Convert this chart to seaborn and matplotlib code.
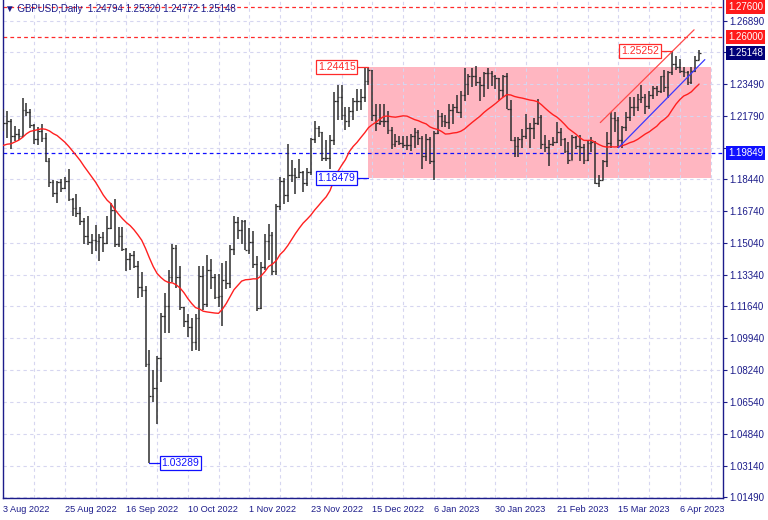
import numpy as np
import pandas as pd
import matplotlib
matplotlib.use('Agg')
import matplotlib.pyplot as plt
import seaborn as sns
from matplotlib.patches import Rectangle

sns.set_style('white')
plt.rcParams['font.family'] = ['Liberation Sans', 'DejaVu Sans']

# Дані GBPUSD Daily (3 Aug 2022 - 13 Apr 2023), по одному бару на робочий день
opens = [1.2165, 1.2144, 1.2152, 1.2075, 1.2082, 1.2076, 1.2212, 1.2203, 1.2134, 1.2055,
         1.2101, 1.2064, 1.1941, 1.1828, 1.1767, 1.1826, 1.1796, 1.1833, 1.1735, 1.1689,
         1.1660, 1.1622, 1.1541, 1.1509, 1.1516, 1.1515, 1.1535, 1.1503, 1.1585, 1.1677,
         1.1499, 1.1540, 1.1469, 1.1418, 1.1436, 1.1380, 1.1267, 1.1254, 1.0856, 1.0685,
         1.0730, 1.0888, 1.1111, 1.1166, 1.1321, 1.1476, 1.1322, 1.1159, 1.1089, 1.1057,
         1.0972, 1.1102, 1.1326, 1.1175, 1.1359, 1.1319, 1.1213, 1.1221, 1.1303, 1.1287,
         1.1473, 1.1616, 1.1573, 1.1622, 1.1466, 1.1506, 1.1389, 1.1157, 1.1376, 1.1514,
         1.1546, 1.1352, 1.1702, 1.1833, 1.1758, 1.1867, 1.1865, 1.1856, 1.1883, 1.1822,
         1.1882, 1.2058, 1.2115, 1.2093, 1.1958, 1.1958, 1.2054, 1.2259, 1.2284, 1.2188,
         1.2153, 1.2206, 1.2259, 1.2262, 1.2279, 1.2368, 1.2425, 1.2186, 1.2143, 1.2154,
         1.2155, 1.2103, 1.2033, 1.2049, 1.2036, 1.2024, 1.2023, 1.2075, 1.2096, 1.2064,
         1.1967, 1.2057, 1.1938, 1.2091, 1.2182, 1.2154, 1.2147, 1.2214, 1.2227, 1.2202,
         1.2293, 1.2351, 1.2395, 1.2394, 1.2364, 1.2345, 1.2412, 1.2408, 1.2395, 1.2381,
         1.2320, 1.2391, 1.2220, 1.2051, 1.2021, 1.2055, 1.2073, 1.2116, 1.2117, 1.2141,
         1.2174, 1.2030, 1.2014, 1.2033, 1.2044, 1.2095, 1.2055, 1.1994, 1.1944, 1.2067,
         1.2020, 1.2016, 1.1945, 1.2037, 1.2040, 1.1822, 1.1841, 1.1938, 1.2035, 1.2171,
         1.2158, 1.2051, 1.2122, 1.2177, 1.2230, 1.2227, 1.2271, 1.2282, 1.2231, 1.2293,
         1.2332, 1.2311, 1.2392, 1.2335, 1.2416, 1.2458, 1.2444, 1.2420, 1.2414, 1.2359,
         1.2422, 1.24794]
highs = [1.2215, 1.2207, 1.2165, 1.2128, 1.2110, 1.2276, 1.2249, 1.2217, 1.2138, 1.2119,
         1.2140, 1.2087, 1.1958, 1.1838, 1.1834, 1.1843, 1.1853, 1.1900, 1.1743, 1.1762,
         1.1695, 1.1637, 1.1648, 1.1549, 1.1600, 1.1550, 1.1560, 1.1648, 1.1714, 1.1738,
         1.1590, 1.1589, 1.1474, 1.1448, 1.1458, 1.1404, 1.1347, 1.1274, 1.0930, 1.0826,
         1.0900, 1.1129, 1.1236, 1.1357, 1.1495, 1.1490, 1.1380, 1.1162, 1.1125, 1.1100,
         1.1126, 1.1381, 1.1380, 1.1438, 1.1418, 1.1337, 1.1337, 1.1395, 1.1408, 1.1493,
         1.1645, 1.1643, 1.1625, 1.1626, 1.1580, 1.1564, 1.1435, 1.1399, 1.1553, 1.1605,
         1.1561, 1.1713, 1.1854, 1.1847, 1.2029, 1.1945, 1.1905, 1.1952, 1.1886, 1.1903,
         1.2065, 1.2153, 1.2125, 1.2094, 1.2050, 1.2078, 1.2310, 1.2344, 1.2345, 1.2228,
         1.2229, 1.2275, 1.2323, 1.2322, 1.2443, 1.24415, 1.2428, 1.2242, 1.2242, 1.2243,
         1.2209, 1.2123, 1.2084, 1.2073, 1.2075, 1.2075, 1.2086, 1.2118, 1.2108, 1.2074,
         1.2086, 1.2066, 1.2098, 1.2210, 1.2196, 1.2188, 1.2246, 1.2246, 1.2293, 1.2311,
         1.2435, 1.2403, 1.2436, 1.2448, 1.2389, 1.2416, 1.2436, 1.2420, 1.2400, 1.2384,
         1.2400, 1.2410, 1.2263, 1.2070, 1.2069, 1.2110, 1.2192, 1.2144, 1.2168, 1.2270,
         1.2184, 1.2081, 1.2050, 1.2068, 1.2148, 1.2115, 1.2063, 1.2040, 1.2080, 1.2075,
         1.2080, 1.2030, 1.2048, 1.2070, 1.2045, 1.1864, 1.1945, 1.2095, 1.2203, 1.2200,
         1.2175, 1.2129, 1.2204, 1.2282, 1.2281, 1.2299, 1.2343, 1.2298, 1.2315, 1.2342,
         1.2340, 1.2395, 1.2424, 1.2422, 1.25252, 1.2500, 1.2482, 1.2440, 1.2418, 1.2443,
         1.2499, 1.25320]
lows = [1.2100, 1.2065, 1.2004, 1.2045, 1.2053, 1.2070, 1.2178, 1.2116, 1.2029, 1.2023,
        1.2043, 1.1935, 1.1800, 1.1749, 1.1717, 1.1777, 1.1788, 1.1728, 1.1648, 1.1641,
        1.1597, 1.1498, 1.1494, 1.1443, 1.1460, 1.1406, 1.1457, 1.1499, 1.1577, 1.1479,
        1.1483, 1.1459, 1.1351, 1.1356, 1.1370, 1.1211, 1.1216, 1.0839, 1.03289, 1.0656,
        1.0539, 1.0762, 1.1025, 1.1025, 1.1295, 1.1262, 1.1146, 1.1053, 1.0999, 1.0924,
        1.0931, 1.0924, 1.1146, 1.1163, 1.1256, 1.1206, 1.1162, 1.1060, 1.1257, 1.1262,
        1.1436, 1.1522, 1.1495, 1.1465, 1.1445, 1.1371, 1.1142, 1.1151, 1.1359, 1.1411,
        1.1333, 1.1333, 1.1676, 1.1710, 1.1720, 1.1830, 1.1763, 1.1848, 1.1776, 1.1805,
        1.1863, 1.2038, 1.2070, 1.1942, 1.1938, 1.1899, 1.2026, 1.2159, 1.2160, 1.2107,
        1.2122, 1.2159, 1.2207, 1.2210, 1.2254, 1.2345, 1.2156, 1.2100, 1.2130, 1.2120,
        1.2085, 1.2003, 1.2013, 1.2025, 1.2010, 1.2000, 1.1992, 1.2010, 1.2026, 1.1900,
        1.1940, 1.1926, 1.1841, 1.2085, 1.2120, 1.2122, 1.2112, 1.2137, 1.2198, 1.2168,
        1.2262, 1.2292, 1.2336, 1.2338, 1.2262, 1.2283, 1.2325, 1.2339, 1.2325, 1.2264,
        1.2280, 1.2218, 1.2047, 1.1961, 1.1960, 1.2010, 1.2060, 1.2011, 1.2056, 1.2130,
        1.2004, 1.1988, 1.1915, 1.2018, 1.2037, 1.2020, 1.1985, 1.1923, 1.1944, 1.2005,
        1.1940, 1.1922, 1.1940, 1.1990, 1.1820, 1.1803, 1.1837, 1.1910, 1.2010, 1.2095,
        1.2011, 1.2010, 1.2098, 1.2155, 1.2181, 1.2205, 1.2248, 1.2190, 1.2218, 1.2273,
        1.2286, 1.2301, 1.2308, 1.2274, 1.2397, 1.2425, 1.2407, 1.2389, 1.2344, 1.2350,
        1.2414, 1.24772]
closes = [1.2144, 1.2152, 1.2075, 1.2082, 1.2076, 1.2212, 1.2203, 1.2134, 1.2055, 1.2101,
          1.2064, 1.1941, 1.1828, 1.1767, 1.1826, 1.1796, 1.1833, 1.1735, 1.1689, 1.1660,
          1.1622, 1.1541, 1.1509, 1.1516, 1.1515, 1.1535, 1.1503, 1.1585, 1.1677, 1.1499,
          1.1540, 1.1469, 1.1418, 1.1436, 1.1380, 1.1267, 1.1254, 1.0856, 1.0685, 1.0730,
          1.0888, 1.1111, 1.1166, 1.1321, 1.1476, 1.1322, 1.1159, 1.1089, 1.1057, 1.0972,
          1.1102, 1.1326, 1.1175, 1.1359, 1.1319, 1.1213, 1.1221, 1.1303, 1.1287, 1.1473,
          1.1616, 1.1573, 1.1622, 1.1466, 1.1506, 1.1389, 1.1157, 1.1376, 1.1514, 1.1546,
          1.1352, 1.1702, 1.1833, 1.1758, 1.1867, 1.1865, 1.1856, 1.1883, 1.1822, 1.1882,
          1.2058, 1.2115, 1.2093, 1.1958, 1.1958, 1.2054, 1.2259, 1.2284, 1.2188, 1.2153,
          1.2206, 1.2259, 1.2262, 1.2279, 1.2368, 1.2425, 1.2186, 1.2143, 1.2154, 1.2155,
          1.2103, 1.2033, 1.2049, 1.2036, 1.2024, 1.2023, 1.2075, 1.2096, 1.2064, 1.1967,
          1.2057, 1.1938, 1.2091, 1.2182, 1.2154, 1.2147, 1.2214, 1.2227, 1.2202, 1.2293,
          1.2351, 1.2395, 1.2394, 1.2364, 1.2345, 1.2412, 1.2408, 1.2395, 1.2381, 1.2320,
          1.2391, 1.2220, 1.2051, 1.2021, 1.2055, 1.2073, 1.2116, 1.2117, 1.2141, 1.2174,
          1.2030, 1.2014, 1.2033, 1.2044, 1.2095, 1.2055, 1.1994, 1.1944, 1.2067, 1.2020,
          1.2016, 1.1945, 1.2037, 1.2040, 1.1822, 1.1841, 1.1938, 1.2035, 1.2171, 1.2158,
          1.2051, 1.2122, 1.2177, 1.2230, 1.2227, 1.2271, 1.2282, 1.2231, 1.2293, 1.2332,
          1.2311, 1.2392, 1.2335, 1.2416, 1.2458, 1.2444, 1.2420, 1.2414, 1.2359, 1.2422,
          1.24794, 1.25148]

# закриття за липень 2022 - лише для розрахунку ковзної середньої на початку
warmup_closes = [1.1963, 1.2023, 1.2030, 1.1890, 1.1888, 1.1913, 1.1823, 1.1872, 1.1965, 1.2002,
                 1.1974, 1.1997, 1.2003, 1.2051, 1.2033, 1.2154, 1.2180, 1.2178, 1.2178, 1.2167]
ma_period = 20

date_ticks = [0, 16, 32, 48, 64, 80, 96, 112, 128, 144, 160, 176]
date_labels = ['3 Aug 2022', '25 Aug 2022', '16 Sep 2022', '10 Oct 2022', '1 Nov 2022',
               '23 Nov 2022', '15 Dec 2022', '6 Jan 2023', '30 Jan 2023', '21 Feb 2023',
               '15 Mar 2023', '6 Apr 2023']
price_ticks = [1.01490, 1.03140, 1.04840, 1.06540, 1.08240, 1.09940, 1.11640, 1.13340,
               1.15040, 1.16740, 1.18440, 1.20090, 1.21790, 1.23490, 1.25190, 1.26890]
# ці дві позначки шкали закриті кольоровими мітками цін
hidden_ticks = [1.20090, 1.25190]

# прямокутник (бари) і ціни його меж
rect_bars = [95, 184.1]
rect_prices = [1.18479, 1.24415]

# трендові лінії: (бар, ціна) на кінцях
upper_line_bars = [155.3, 179.7]
upper_line_prices = [1.2145, 1.2640]
lower_line_bars = [160, 182.5]
lower_line_prices = [1.2011, 1.2481]

# екстремуми з мітками цін
swing_low_bar = 38
swing_high_bar = 174

# горизонтальні рівні
level_prices = [1.27600, 1.26000, 1.19849]
level_colors = ['#ff2a2a', '#ff2a2a', '#1010ff']

scale_prices = [1.27600, 1.26000, 1.25148, 1.19849]
scale_colors = ['#ff1a1a', '#ff1a1a', '#000078', '#1010ff']

header = '\u25bc GBPUSD,Daily  1.24794 1.25320 1.24772 1.25148'

navy = '#1c1c8a'

df = pd.DataFrame({'open': opens, 'high': highs, 'low': lows, 'close': closes})
df['bar'] = np.arange(len(df))
all_close = pd.Series(warmup_closes + closes)
df['ma'] = all_close.rolling(ma_period).mean().iloc[len(warmup_closes):].values

fig = plt.figure(figsize=(7.68, 5.2), dpi=100)
ax = fig.add_axes([2.7 / 768, 21.7 / 520, 720.6 / 768, 498.3 / 520])
ax.set_xlim(-0.16, 187.3)
ax.set_ylim(1.01405, 1.2799)
ax.set_axisbelow(True)

# рожевий прямокутник
ax.add_patch(Rectangle((rect_bars[0], rect_prices[0]), rect_bars[1] - rect_bars[0],
                       rect_prices[1] - rect_prices[0], fc='#ffb6c1', ec='none', zorder=0.3))

# рівні
for p, c in zip(level_prices, level_colors):
    ax.axhline(p, color=c, lw=0.9, ls=(0, (3, 2.5)), zorder=1)

# OHLC бари
bar_color = '#2e2e2e'
ax.vlines(df['bar'], df['low'], df['high'], color=bar_color, lw=1.1, zorder=3)
ax.hlines(df['open'], df['bar'] - 0.45, df['bar'], color=bar_color, lw=0.9, zorder=3)
ax.hlines(df['close'], df['bar'], df['bar'] + 0.45, color=bar_color, lw=0.9, zorder=3)

# ковзна середня
sns.lineplot(data=df, x='bar', y='ma', color='#ff2020', lw=1.0, ax=ax, zorder=4)

# трендові лінії
sns.lineplot(x=upper_line_bars, y=upper_line_prices, color='#ff4a4a', lw=0.9, ax=ax, zorder=4)
sns.lineplot(x=lower_line_bars, y=lower_line_prices, color='#3a3aff', lw=0.9, ax=ax, zorder=4)

ax.set_xlabel('')
ax.set_ylabel('')


# цінові мітки на графіку
def price_label(anchor, price, color, side):
    if side == 'left':
        edge = anchor - 3.0
        cx = edge - 5.3
    else:
        edge = anchor + 2.8
        cx = edge + 5.3
    ax.plot([edge, anchor], [price, price], color=color, lw=0.9, zorder=5)
    ax.text(cx, price, f'{price:.5f}', ha='center', va='center', color=color, fontsize=7.5,
            zorder=6, bbox=dict(boxstyle='square,pad=0.18', fc='white', ec=color, lw=0.9))


price_label(rect_bars[0], rect_prices[1], '#ff2a2a', 'left')
price_label(rect_bars[0], rect_prices[0], '#1010ff', 'left')
price_label(swing_low_bar, df['low'][swing_low_bar], '#1010ff', 'right')
price_label(swing_high_bar, df['high'][swing_high_bar], '#ff2a2a', 'left')

# осі
ax.set_xticks(date_ticks)
ax.set_xticklabels(date_labels)
ax.set_xticks([t + 8 for t in date_ticks], minor=True)
ax.set_yticks(price_ticks)
ax.set_yticklabels(['' if v in hidden_ticks else f'{v:.5f}' for v in price_ticks])
ax.yaxis.tick_right()
ax.tick_params(axis='x', which='major', direction='out', length=3, width=0.8, color=navy,
               labelsize=6.6, labelcolor=navy, pad=1.5)
ax.tick_params(axis='x', which='minor', length=0)
ax.tick_params(axis='y', direction='out', length=3, width=0.8, color=navy,
               labelsize=7, labelcolor=navy, pad=1.5)
for lab in ax.get_xticklabels():
    lab.set_ha('left')
ax.grid(True, which='both', color='#d6d6f0', lw=0.8, ls=(0, (3, 3)))
for side in ['left', 'bottom', 'right']:
    ax.spines[side].set_color(navy)
    ax.spines[side].set_linewidth(1.0)
ax.spines['top'].set_visible(False)

# мітки рівнів на шкалі цін
for p, c in zip(scale_prices, scale_colors):
    ax.text(1.0066, p, f'{p:.5f}', transform=ax.get_yaxis_transform(), ha='left', va='center',
            color='white', fontsize=7, clip_on=False, zorder=10,
            bbox=dict(boxstyle='square,pad=0.2', fc=c, ec='none'))

fig.text(5 / 768, 1 - 9 / 520, header, color=navy, fontsize=7, va='center', ha='left')

fig.savefig('out.png', dpi=100)
